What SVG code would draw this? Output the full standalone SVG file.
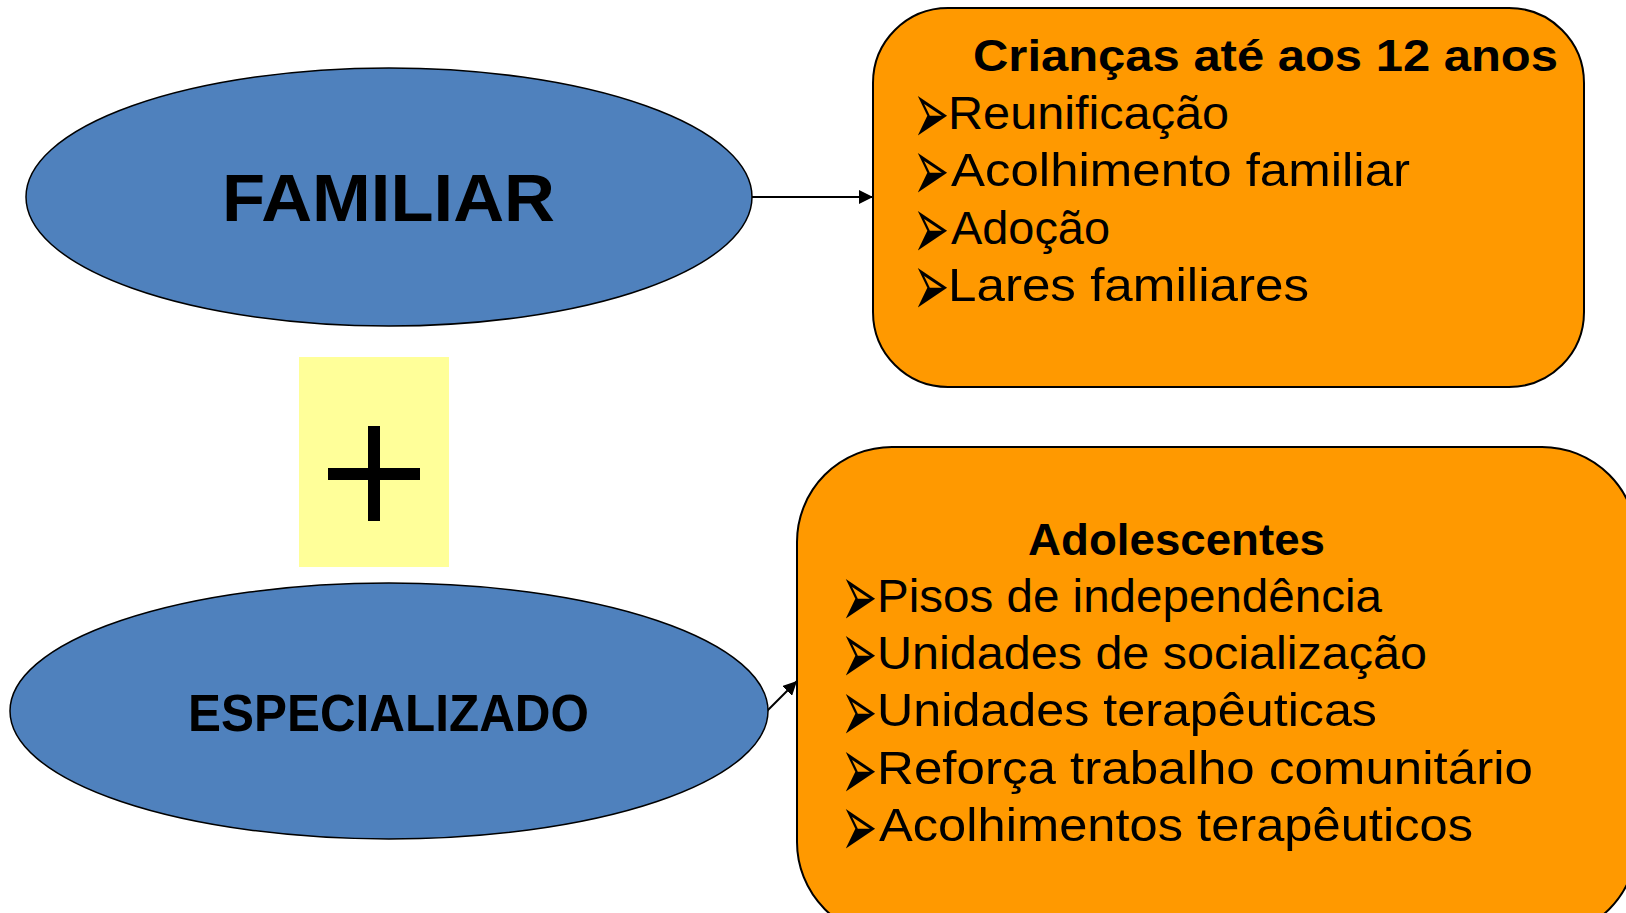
<svg xmlns="http://www.w3.org/2000/svg" width="1626" height="913" viewBox="0 0 1626 913">
<style>
.ell{fill:#4F81BD;stroke:#000;stroke-width:1.5}
.box{fill:#FF9900;stroke:#000;stroke-width:2}
.t{font-family:"Liberation Sans",Arial,sans-serif;fill:#000}
.b{font-weight:bold}
.it{font-size:46px}
.bul{font-family:"DejaVu Sans",sans-serif;font-size:36px;fill:#000}
.con{stroke:#000;stroke-width:2;fill:none}
</style>
<defs>
<marker id="ah" viewBox="0 0 10 10" refX="10" refY="5" markerWidth="7" markerHeight="7" markerUnits="strokeWidth" orient="auto">
<path d="M0,0 L10,5 L0,10 z" fill="#000"/>
</marker>
</defs>
<rect width="1626" height="913" fill="#fff"/>
<g id="connectors">
<line class="con" x1="752" y1="197" x2="873" y2="197" marker-end="url(#ah)"/>
<line class="con" x1="767" y1="711" x2="797" y2="681" marker-end="url(#ah)"/>
</g>
<g id="familiar">
<ellipse class="ell" cx="389" cy="197" rx="363" ry="129"/>
<text class="t b" x="222" y="221" font-size="66" textLength="333" lengthAdjust="spacingAndGlyphs">FAMILIAR</text>
</g>
<g id="plus">
<rect x="299" y="357" width="150" height="210" fill="#FFFF99"/>
<rect x="328" y="468" width="92" height="12" fill="#000"/>
<rect x="368" y="426" width="12" height="95" fill="#000"/>
</g>
<g id="especializado">
<ellipse class="ell" cx="389" cy="711" rx="379" ry="128"/>
<text class="t b" x="188" y="731" font-size="52" textLength="401" lengthAdjust="spacingAndGlyphs">ESPECIALIZADO</text>
</g>
<g id="criancas">
<rect class="box" x="873" y="8" width="711" height="379" rx="75" ry="75"/>
<text class="t b" x="973" y="71" font-size="44" textLength="585" lengthAdjust="spacingAndGlyphs">Crianças até aos 12 anos</text>
<text class="bul" transform="translate(913,111) scale(1.2,2.5)" y="13">➢</text>
<text class="t it" x="948" y="129" textLength="281" lengthAdjust="spacingAndGlyphs">Reunificação</text>
<text class="bul" transform="translate(913,168) scale(1.2,2.5)" y="13">➢</text>
<text class="t it" x="951" y="186" textLength="459" lengthAdjust="spacingAndGlyphs">Acolhimento familiar</text>
<text class="bul" transform="translate(913,226) scale(1.2,2.5)" y="13">➢</text>
<text class="t it" x="951" y="244" textLength="159" lengthAdjust="spacingAndGlyphs">Adoção</text>
<text class="bul" transform="translate(913,283) scale(1.2,2.5)" y="13">➢</text>
<text class="t it" x="948" y="301" textLength="361" lengthAdjust="spacingAndGlyphs">Lares familiares</text>
</g>
<g id="adolescentes">
<rect class="box" x="797" y="447" width="840" height="490" rx="95" ry="95"/>
<text class="t b" x="1028" y="555" font-size="44" textLength="297" lengthAdjust="spacingAndGlyphs">Adolescentes</text>
<text class="bul" transform="translate(841,594) scale(1.2,2.5)" y="13">➢</text>
<text class="t it" x="877" y="612" textLength="505" lengthAdjust="spacingAndGlyphs">Pisos de independência</text>
<text class="bul" transform="translate(841,651) scale(1.2,2.5)" y="13">➢</text>
<text class="t it" x="877" y="669" textLength="550" lengthAdjust="spacingAndGlyphs">Unidades de socialização</text>
<text class="bul" transform="translate(841,709) scale(1.2,2.5)" y="13">➢</text>
<text class="t it" x="877" y="726" textLength="500" lengthAdjust="spacingAndGlyphs">Unidades terapêuticas</text>
<text class="bul" transform="translate(841,767) scale(1.2,2.5)" y="13">➢</text>
<text class="t it" x="877" y="784" textLength="656" lengthAdjust="spacingAndGlyphs">Reforça trabalho comunitário</text>
<text class="bul" transform="translate(841,824) scale(1.2,2.5)" y="13">➢</text>
<text class="t it" x="879" y="841" textLength="594" lengthAdjust="spacingAndGlyphs">Acolhimentos terapêuticos</text>
</g>
</svg>
